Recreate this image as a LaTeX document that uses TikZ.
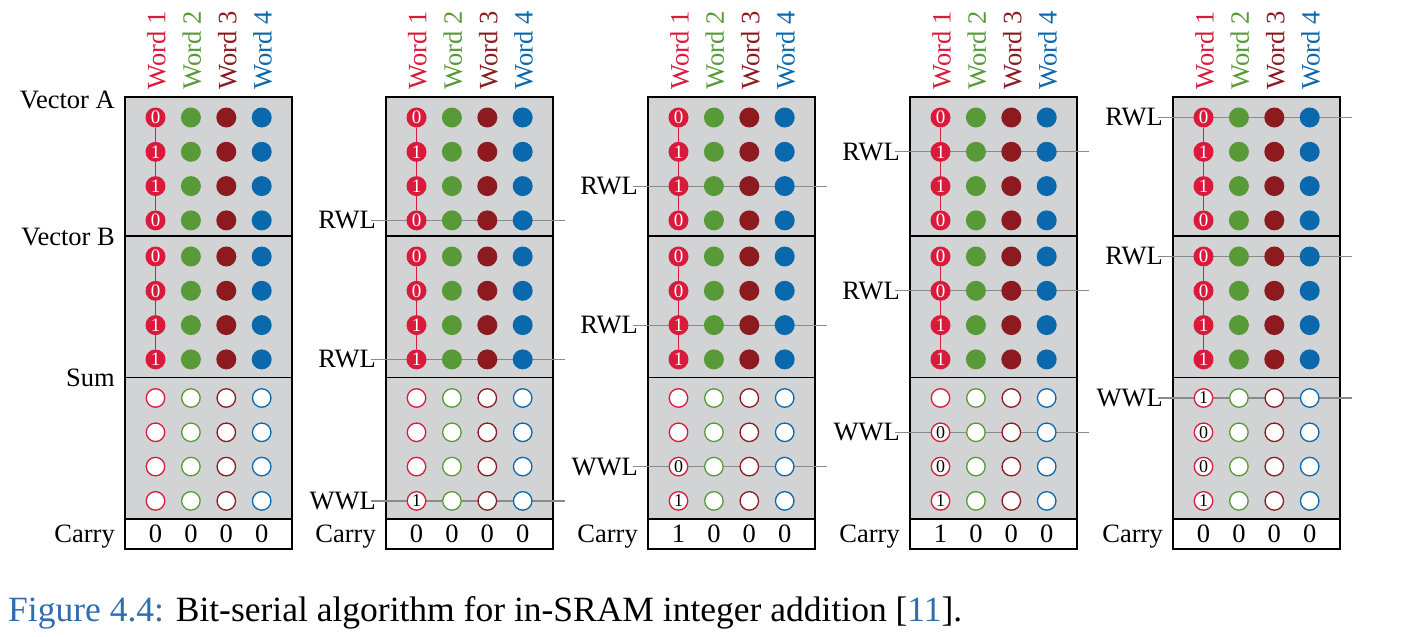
\documentclass[tikz,border=0pt]{standalone}
\usepackage{fontspec}
\setmainfont{Liberation Serif}
\usetikzlibrary{calc}
\definecolor{wred}{HTML}{DA1A3A}
\definecolor{wgreen}{HTML}{579A37}
\definecolor{wdark}{HTML}{8C1A1F}
\definecolor{wblue}{HTML}{0A68AD}
\definecolor{cellgray}{HTML}{D1D3D4}
\definecolor{linegray}{HTML}{8A8A8A}
\definecolor{capblue}{HTML}{2E6DB0}
\tikzset{
  frame/.style={draw=black,line width=1.5pt},
  bit/.style={circle,inner sep=0pt,minimum size=20pt,text=white,font=\fontsize{19}{19}\selectfont},
  hole/.style={circle,inner sep=0pt,minimum size=18.5pt,line width=1.3pt,fill=white,text=black,font=\fontsize{18}{18}\selectfont},
  wire/.style={draw=wred,line width=1.5pt},
  wl/.style={draw=linegray,line width=1.2pt},
  lbl/.style={inner sep=0pt,font=\fontsize{26.5}{26.5}\selectfont},
}
\newcommand{\colx}[1]{30.5+35.4*(#1-1)}
\newcommand{\sram}[5]{\begin{scope}[shift={(#2,0)}]
  \fill[cellgray] (0,97) rectangle (167,519);
  \draw[frame] (0,97) rectangle (167,236);
  \draw[frame] (0,236) rectangle (167,377.5);
  \draw[frame] (0,377.5) rectangle (167,519);
  \draw[frame,fill=white] (0,519) rectangle (167,549);
  \foreach \c/\wc in {1/wred,2/wgreen,3/wdark,4/wblue}
    \node[lbl,rotate=90,anchor=west,text=\wc] (#1w\c) at ({\colx{\c}+1},90) {Word \c};
  \ifnum#3>0
  \pgfmathsetmacro{\ya}{117.5+34.3*(#3-1)}
  \pgfmathsetmacro{\yb}{256.5+34.3*(#3-1)}
  \pgfmathsetmacro{\ys}{398+34.3*(#3-1)}
  \node[lbl,anchor=east] (#1ra) at (-10,\ya) {RWL};
  \node[lbl,anchor=east] (#1rb) at (-10,\yb) {RWL};
  \node[lbl,anchor=east] (#1ws) at (-10,\ys) {WWL};
  \coordinate (#1ea) at (179,\ya);
  \coordinate (#1eb) at (179,\yb);
  \coordinate (#1es) at (179,\ys);
  \draw[wl] ([xshift=-5pt]#1ra.east) -- (#1ea);
  \draw[wl] ([xshift=-5pt]#1rb.east) -- (#1eb);
  \draw[wl] ([xshift=-5pt]#1ws.east) -- (#1es);
  \fi
  \foreach \v [count=\r] in {0,1,1,0}
    \node[bit,fill=wred] (#1a\r-1) at ({\colx{1}},{117.5+34.3*(\r-1)}) {\v};
  \foreach \v [count=\r] in {0,0,1,1}
    \node[bit,fill=wred] (#1b\r-1) at ({\colx{1}},{256.5+34.3*(\r-1)}) {\v};
  \foreach \v [count=\r] in {#4}
    \node[hole,draw=wred] (#1s\r-1) at ({\colx{1}},{398+34.3*(\r-1)}) {\v};
  \foreach \c/\wc in {2/wgreen,3/wdark,4/wblue}
    \foreach \r in {1,...,4}{
      \node[bit,fill=\wc] (#1a\r-\c) at ({\colx{\c}},{117.5+34.3*(\r-1)}) {};
      \node[bit,fill=\wc] (#1b\r-\c) at ({\colx{\c}},{256.5+34.3*(\r-1)}) {};
      \node[hole,draw=\wc] (#1s\r-\c) at ({\colx{\c}},{398+34.3*(\r-1)}) {};
    }
  \foreach \r [evaluate=\r as \n using int(\r+1)] in {1,2,3}{
    \draw[wire] (#1a\r-1) -- (#1a\n-1);
    \draw[wire] (#1b\r-1) -- (#1b\n-1);
  }
  \node[lbl,anchor=base east] (#1cl) at (-10,542) {Carry};
  \foreach \v [count=\c] in {#5}
    \node[lbl,anchor=base] (#1c\c) at ({\colx{\c}},542) {\v};
\end{scope}}

\begin{document}
\begin{tikzpicture}[x=1pt,y=-1pt]
\useasboundingbox (0,0) rectangle (1411,637);
\sram{p1}{125}{0}{{},{},{},{}}{0,0,0,0}
\sram{p2}{386}{4}{{},{},{},1}{0,0,0,0}
\sram{p3}{648}{3}{{},{},0,1}{1,0,0,0}
\sram{p4}{910}{2}{{},0,0,1}{1,0,0,0}
\sram{p5}{1173}{1}{1,0,0,1}{0,0,0,0}
\node[lbl,anchor=base east] (veca) at (115,108) {Vector A};
\node[lbl,anchor=base east] (vecb) at (115,245) {Vector B};
\node[lbl,anchor=base east] (sum) at (115,386.5) {Sum};
\node[lbl,anchor=base west,font=\fontsize{35.5}{35.5}\selectfont] (cap) at (8,621) {\textcolor{capblue}{Figure 4.4:} Bit-serial algorithm for in-SRAM integer addition [\textcolor{capblue}{11}].};
\end{tikzpicture}
\end{document}
